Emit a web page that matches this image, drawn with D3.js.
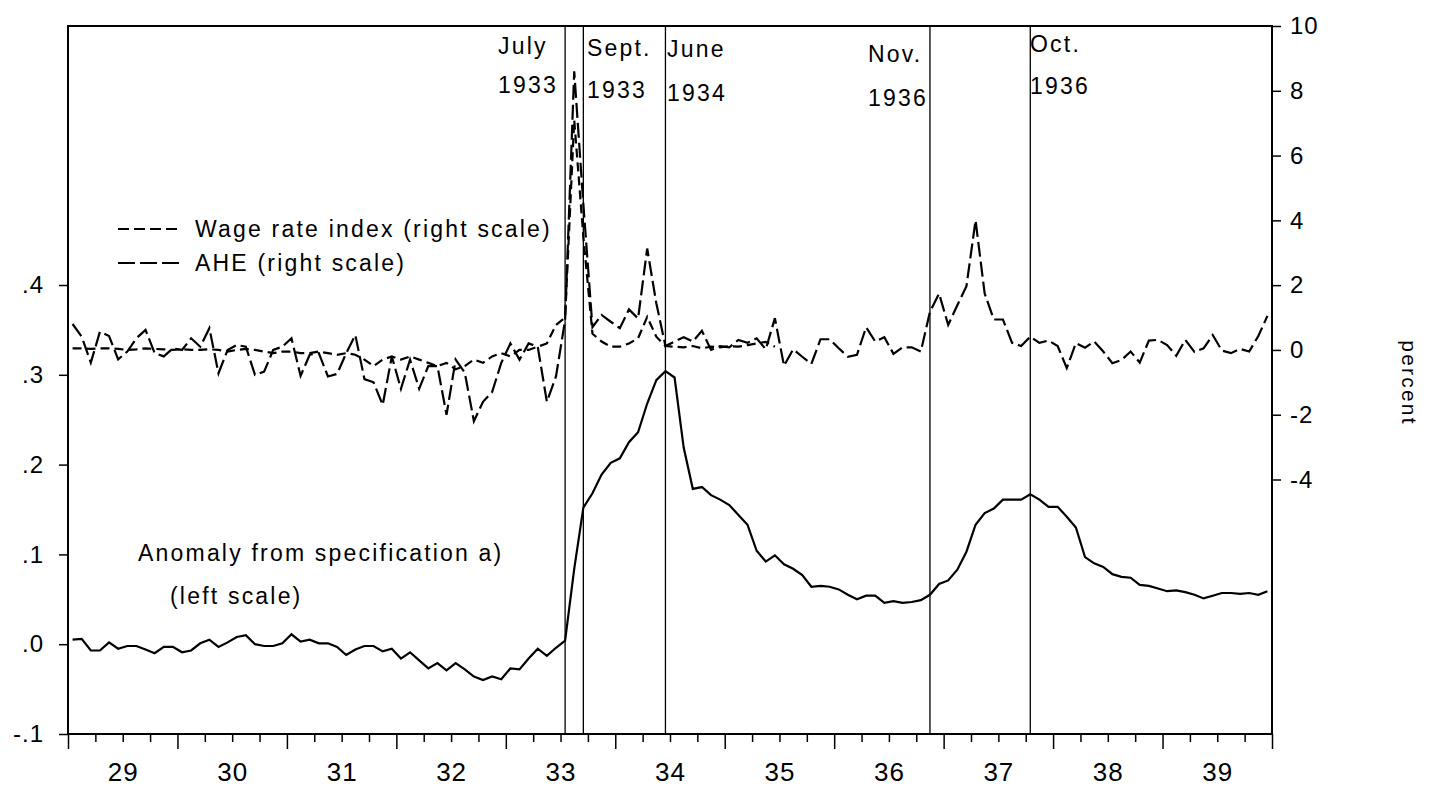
<!DOCTYPE html>
<html>
<head>
<meta charset="utf-8">
<title>Anomaly and wages 1929-1939</title>
<script src="https://d3js.org/d3.v7.min.js"></script>
<style>
body { margin: 0; background: #fff; }
text { font-family: "Liberation Sans", Arial, Helvetica, sans-serif; fill: #000; }
.axis path { stroke: #000; stroke-width: 1.5; }
.axis line { stroke: #000; stroke-width: 1.5; }
.lbl { font-size: 23px; letter-spacing: 2.2px; }
</style>
</head>
<body>
<script>
// monthly observations, Jan 1929 .. Dec 1939
var startYear = 1929;

// anomaly from specification a) (left scale)
var anomaly = [
  .005, .006, -.007, -.007, .002, -.005, -.002, -.002, -.006, -.010, -.003, -.003,
  -.009, -.007, .001, .005, -.003, .002, .008, .010, .000, -.002, -.002, .001,
  .011, .003, .005, .001, .001, -.003, -.012, -.006, -.002, -.002, -.008, -.005,
  -.016, -.009, -.018, -.027, -.021, -.029, -.021, -.028, -.036, -.040, -.036, -.039,
  -.027, -.028, -.016, -.005, -.013, -.004, .004, .084, .152, .168, .189, .202,
  .207, .225, .236, .268, .294, .304, .297, .219, .173, .175, .166, .161,
  .155, .144, .133, .104, .092, .099, .089, .084, .077, .064, .065, .064,
  .061, .055, .050, .054, .054, .046, .048, .046, .047, .049, .055, .067,
  .071, .083, .103, .133, .146, .151, .161, .161, .161, .167, .161, .153,
  .153, .142, .130, .097, .090, .086, .078, .075, .074, .066, .065, .062,
  .059, .060, .058, .055, .051, .054, .057, .057, .056, .057, .055, .059
];

// wage rate index, percent change (right scale), ends mid 1935
var wageRate = [
  .05, .05, .03, .05, .05, .03, .00, .02, .05, .03, .02, .00,
  .02, .00, .00, .02, .00, -.05, .00, .03, .00, -.05, -.10, -.05,
  -.05, -.10, -.10, -.05, -.10, -.15, -.10, -.15, -.30, -.50, -.30, -.20,
  -.30, -.20, -.30, -.40, -.50, -.40, -.60, -.50, -.30, -.40, -.20, -.10,
  -.20, .00, .00, .10, .20, .77, 1.0, 7.1, 3.5, .50, .26, .10,
  .10, .20, .36, 1.02, .41, .12, .10, .08, .12, .05, .10, .08,
  .12, .10, .15, .20, .25, .10
];

// average hourly earnings, percent change (right scale)
var ahe = [
  .80, .41, -.39, .56, .43, -.29, -.05, .36, .62, -.10, -.20, .05,
  .00, .36, .10, .67, -.72, .00, .15, .10, -.77, -.67, .00, .10,
  .36, -.80, -.15, -.10, -.82, -.74, -.10, .46, -.90, -1.0, -1.7, -.20,
  -1.2, -.30, -1.2, -.50, -.50, -2.0, -.30, -.70, -2.2, -1.6, -1.3, -.40,
  .20, -.30, .20, .10, -1.6, -.82, .92, 8.6, 4.5, .70, 1.08, .87,
  .67, 1.25, .97, 3.13, 1.44, .12, .26, .39, .26, .59, .00, .12,
  .08, .31, .22, .36, .02, .98, -.49, .02, -.21, -.43, .33, .33,
  .05, -.21, -.15, .70, .26, .39, -.12, .08, .08, -.05, 1.18, 1.74,
  .77, 1.38, 1.97, 4.0, 1.74, .94, .94, .22, .12, .41, .22, .29,
  .12, -.56, .21, .07, .26, -.05, -.41, -.31, -.05, -.39, .29, .31,
  .15, -.18, .31, -.06, .05, .46, -.02, -.10, .03, -.05, .43, 1.05
];

// event lines: month index and two-line label
var events = [
  {m: 54, l1: "July", l2: "1933", tx: 498, y1: 54, y2: 93},
  {m: 56, l1: "Sept.", l2: "1933", tx: 587, y1: 56, y2: 98},
  {m: 65, l1: "June", l2: "1934", tx: 667, y1: 57, y2: 101},
  {m: 94, l1: "Nov.", l2: "1936", tx: 868, y1: 62, y2: 106},
  {m: 105, l1: "Oct.", l2: "1936", tx: 1030, y1: 52, y2: 94}
];

var leftTicks = [-.1, 0, .1, .2, .3, .4];
var rightTicks = [-4, -2, 0, 2, 4, 6, 8, 10];

var width = 1430, height = 791,
    plotLeft = 68, plotRight = 1272, plotTop = 26, plotBottom = 734;

var svg = d3.select("body").append("svg")
  .attr("width", width)
  .attr("height", height);

var nMonths = 132;
var x = d3.scaleLinear().domain([0, nMonths]).range([plotLeft, plotRight]);
var yL = d3.scaleLinear().domain([-.1, .4]).range([plotBottom, 285]);
var yR = d3.scaleLinear().domain([-4, 10]).range([479.5, plotTop]);

function hyphen(s) { return s.replace("\u2212", "-"); }

// x axis: quarter ticks, longer year ticks, year labels centred
var quarters = d3.range(0, nMonths + 1, 3).filter(function(d) { return d % 12 != 0; });
var years = d3.range(0, nMonths + 1, 12);

svg.append("g").attr("class", "axis")
  .attr("transform", "translate(0," + plotBottom + ")")
  .call(d3.axisBottom(x).tickValues(quarters).tickSize(8).tickFormat(""))
  .call(function(g) { g.select(".domain").remove(); });

svg.append("g").attr("class", "axis")
  .attr("transform", "translate(0," + plotBottom + ")")
  .call(d3.axisBottom(x).tickValues(years).tickSize(15).tickFormat(""))
  .call(function(g) { g.select(".domain").remove(); });

svg.append("g")
  .attr("transform", "translate(0," + plotBottom + ")")
  .call(d3.axisBottom(x).tickValues(years.slice(0, -1).map(function(d) { return d + 6; }))
    .tickSize(0).tickPadding(29)
    .tickFormat(function(d) { return String(startYear + Math.floor(d / 12)).slice(2); }))
  .call(function(g) {
    g.select(".domain").remove();
    g.selectAll("text").attr("font-size", 26).attr("letter-spacing", "1px");
  });

// left axis
svg.append("g").attr("class", "axis")
  .attr("transform", "translate(" + plotLeft + ",0)")
  .call(d3.axisLeft(yL).tickValues(leftTicks).tickSize(9).tickPadding(15)
    .tickFormat(function(d) { return hyphen(d3.format(".1f")(d)).replace("0.", "."); }))
  .call(function(g) {
    g.select(".domain").remove();
    g.selectAll("text").attr("font-size", 24).attr("letter-spacing", "1px");
  });

// right axis
svg.append("g").attr("class", "axis")
  .attr("transform", "translate(" + plotRight + ",0)")
  .call(d3.axisRight(yR).tickValues(rightTicks).tickSize(9).tickPadding(9)
    .tickFormat(function(d) { return hyphen(String(d)); }))
  .call(function(g) {
    g.select(".domain").remove();
    g.selectAll("text").attr("font-size", 24).attr("letter-spacing", "1px");
  });

svg.append("text")
  .attr("class", "lbl")
  .attr("transform", "translate(1402,383) rotate(90)")
  .attr("text-anchor", "middle")
  .style("font-size", "21px")
  .text("percent");

// frame
svg.append("rect")
  .attr("x", plotLeft).attr("y", plotTop)
  .attr("width", plotRight - plotLeft).attr("height", plotBottom - plotTop)
  .attr("fill", "none").attr("stroke", "#000").attr("stroke-width", 2);

// event lines and labels
var ev = svg.append("g");
ev.selectAll("line").data(events).enter().append("line")
  .attr("x1", function(d) { return x(d.m + .5); })
  .attr("x2", function(d) { return x(d.m + .5); })
  .attr("y1", plotTop).attr("y2", plotBottom)
  .attr("stroke", "#000").attr("stroke-width", 1.3);

ev.selectAll("g").data(events).enter().append("g")
  .each(function(d) {
    var g = d3.select(this);
    g.append("text").attr("class", "lbl").attr("x", d.tx).attr("y", d.y1).text(d.l1);
    g.append("text").attr("class", "lbl").attr("x", d.tx).attr("y", d.y2).text(d.l2);
  });

// series
function lineFor(y) {
  return d3.line()
    .x(function(d, i) { return x(i + .5); })
    .y(function(d) { return y(d); });
}

svg.append("path").datum(anomaly)
  .attr("d", lineFor(yL))
  .attr("fill", "none").attr("stroke", "#000").attr("stroke-width", 2.2);

svg.append("path").datum(wageRate)
  .attr("d", lineFor(yR))
  .attr("fill", "none").attr("stroke", "#000").attr("stroke-width", 2.2)
  .attr("stroke-dasharray", "9,5");

svg.append("path").datum(ahe)
  .attr("d", lineFor(yR))
  .attr("fill", "none").attr("stroke", "#000").attr("stroke-width", 2.2)
  .attr("stroke-dasharray", "15,5");

// legend
var legend = [
  {label: "Wage rate index (right scale)", dash: "11,5", y: 229},
  {label: "AHE (right scale)", dash: "17,5", y: 263}
];
var lg = svg.append("g");
lg.selectAll("line").data(legend).enter().append("line")
  .attr("x1", 118).attr("x2", 180)
  .attr("y1", function(d) { return d.y; }).attr("y2", function(d) { return d.y; })
  .attr("stroke", "#000").attr("stroke-width", 2.2)
  .attr("stroke-dasharray", function(d) { return d.dash; });
lg.selectAll("text").data(legend).enter().append("text")
  .attr("class", "lbl")
  .attr("x", 195).attr("y", function(d) { return d.y + 8; })
  .text(function(d) { return d.label; });

// annotation for left-scale series
svg.append("text").attr("class", "lbl").attr("x", 138).attr("y", 561)
  .text("Anomaly from specification a)");
svg.append("text").attr("class", "lbl").attr("x", 170).attr("y", 604)
  .text("(left scale)");
</script>
</body>
</html>
